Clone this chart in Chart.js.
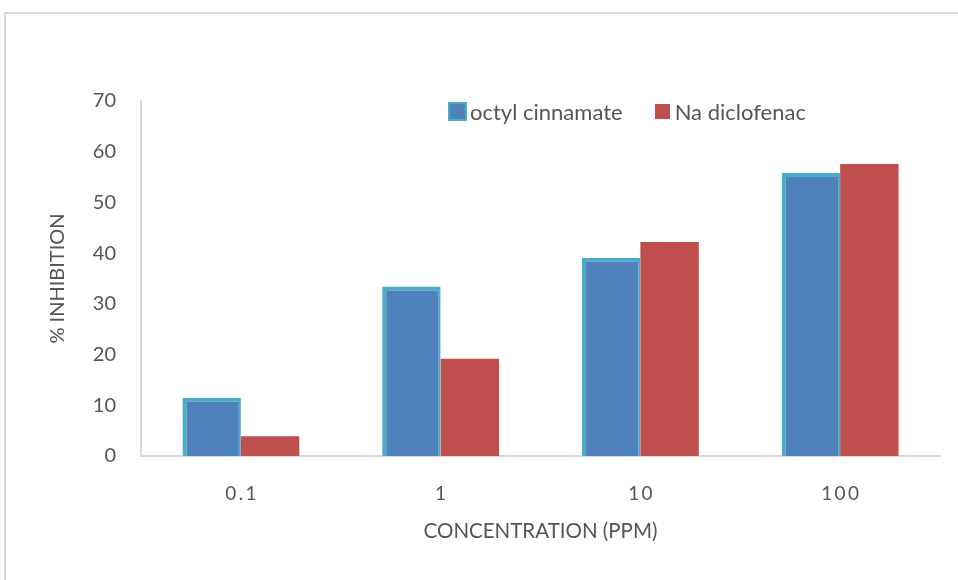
<!DOCTYPE html>
<html>
<head>
<meta charset="utf-8">
<script src="https://cdn.jsdelivr.net/npm/chart.js@4/dist/chart.umd.min.js"></script>
<style>
  html, body { margin: 0; padding: 0; background: #fff; }
  #wrap { position: relative; width: 958px; height: 580px; overflow: hidden; }
  #frame { position: absolute; left: 4px; top: 12px; width: 1000px; height: 1000px; border: 2px solid #d9d9d9; }
  #chart { position: absolute; left: 0; top: 0; }
  #legend { position: absolute; top: 97px; left: 450px; font-family: Lato, "Open Sans", sans-serif; font-size: 22px; color: #555; white-space: nowrap; }
  #legend span.item { display: inline-flex; align-items: center; }
  #legend span.box { display: inline-block; width: 15px; height: 15px; margin-right: 5px; box-sizing: border-box; }
</style>
</head>
<body>
<div id="wrap">
  <div id="frame"></div>
  <canvas id="chart" width="958" height="580"></canvas>
  <div id="legend"></div>
</div>
<script>
// data
const concentrations = ["0.1", "1", "10", "100"];
const seriesNames = ["octyl cinnamate", "Na diclofenac"];
const octylCinnamate = [11.5, 33.4, 39.1, 55.8];
const naDiclofenac = [3.9, 19.2, 42.2, 57.6];
const yTicks = [0, 10, 20, 30, 40, 50, 60, 70];

const textColor = "#555";
const fontFamily = "Lato, 'Open Sans', sans-serif";

const datasets = [
  {
    label: seriesNames[0],
    data: octylCinnamate,
    backgroundColor: "#4f81bd",
    borderColor: "#4bacc6",
    borderWidth: {top: 4, left: 4, right: 2, bottom: 0},
    borderSkipped: false
  },
  {
    label: seriesNames[1],
    data: naDiclofenac,
    backgroundColor: "#c0504d",
    borderWidth: 0
  }
];

const chart = new Chart(document.getElementById("chart"), {
  type: "bar",
  data: { labels: concentrations, datasets: datasets },
  options: {
    responsive: false,
    animation: false,
    layout: { padding: { left: 0, top: 101, right: 18, bottom: 0 } },
    datasets: { bar: { categoryPercentage: 0.585, barPercentage: 1 } },
    plugins: { legend: { display: false }, tooltip: { enabled: false } },
    scales: {
      x: {
        grid: { display: false, drawTicks: false },
        border: { display: true, color: "#d9d9d9", width: 2 },
        ticks: {
          color: textColor,
          padding: 26,
          font: { family: fontFamily, size: 19 },
          // the original spaces the digits out a little
          callback: (v, i) => concentrations[i].split("").join("\u2009")
        },
        title: {
          display: true,
          text: "CONCENTRATION (PPM)",
          color: textColor,
          font: { family: fontFamily, size: 20.5 },
          padding: { top: 0, bottom: 36 }
        },
        afterFit: s => { s.height = 124; }
      },
      y: {
        min: 0,
        max: 70,
        grid: { display: false, drawTicks: false },
        border: { display: true, color: "#d9d9d9", width: 2 },
        afterBuildTicks: s => { s.ticks = yTicks.map(v => ({ value: v })); },
        ticks: {
          color: textColor,
          padding: 25,
          font: { family: fontFamily, size: 20 }
        },
        title: {
          display: true,
          text: "% INHIBITION",
          color: textColor,
          font: { family: fontFamily, size: 20 },
          padding: { top: 46, bottom: 0 }
        },
        afterFit: s => { s.width = 141; }
      }
    }
  }
});

// legend as html, built from the datasets
const legendEl = document.getElementById("legend");
legendEl.innerHTML = datasets.map((d, i) => {
  const border = d.borderColor ? "outline:2px solid " + d.borderColor + ";" : "";
  const gap = i > 0 ? "margin-left:32px;" : "";
  return `<span class="item" style="${gap}"><span class="box" style="background:${d.backgroundColor};${border}"></span>${d.label}</span>`;
}).join("");
</script>
</body>
</html>
